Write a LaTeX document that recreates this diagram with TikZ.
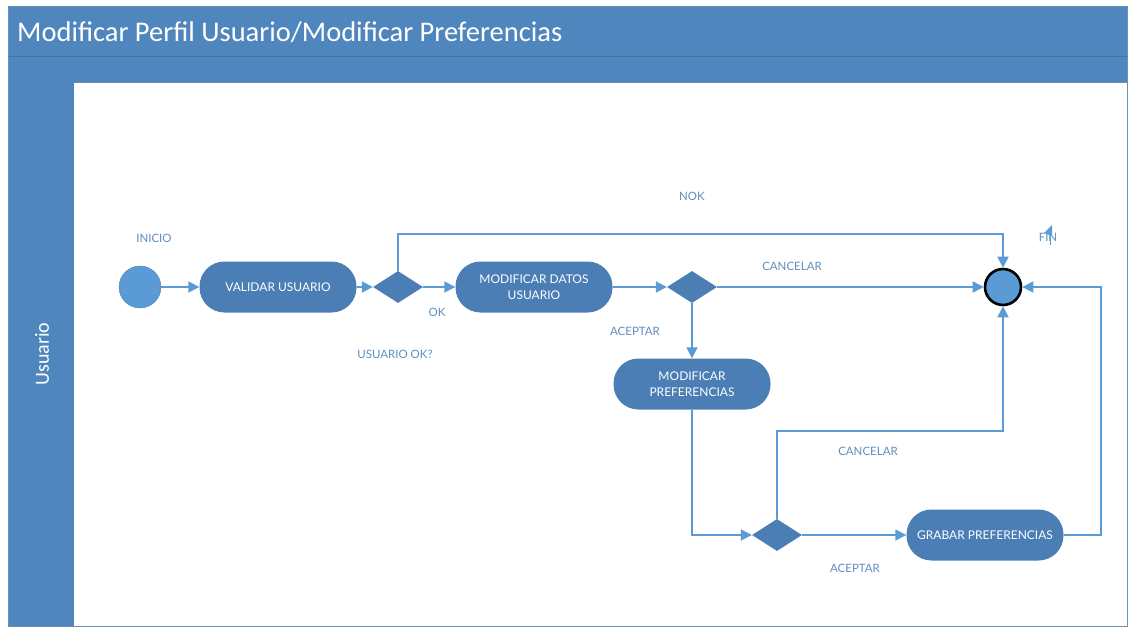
\documentclass[tikz,border=0pt]{standalone}
\usepackage{fontspec}
\setmainfont{Carlito}
\newfontfamily\lab{Lato}
\usetikzlibrary{shapes.geometric,arrows.meta}
\definecolor{hdr}{HTML}{4F86BD}
\definecolor{hdrline}{HTML}{45739F}
\definecolor{framec}{HTML}{6F8FAF}
\definecolor{nodefill}{HTML}{4A7EB4}
\definecolor{linec}{HTML}{5B9BD5}
\definecolor{labc}{HTML}{5E8FBF}
\begin{document}
\begin{tikzpicture}[x=1pt,y=-1pt,
  act/.style={draw=none,fill=nodefill,rounded corners=25pt,minimum width=157pt,minimum height=51pt,
    text=white,align=center,font=\lab\fontsize{12}{16.5}\selectfont,inner sep=2pt},
  dec/.style={diamond,draw=none,fill=nodefill,minimum width=50pt,minimum height=32pt,inner sep=0pt,aspect=1.5625},
  flow/.style={draw=linec,line width=1.8pt,-{Triangle[length=11pt,width=11pt]}},
  lbl/.style={text=labc,font=\lab\fontsize{11.5}{13}\selectfont,inner sep=0pt},
]
\useasboundingbox (0,0) rectangle (1131,628);
\fill[white] (0,0) rectangle (1131,628);
% frame
\fill[hdr] (8,7) rectangle (1127,82);
\fill[hdr] (8,82) rectangle (74,626);
\draw[hdrline,line width=1pt] (8,57) -- (1127,57);
\draw[framec,line width=1pt] (8,7) rectangle (1127,626);
\draw[framec,line width=0.6pt] (74,82) -- (1127,82);
\node[anchor=west,text=white,font=\fontsize{28.5}{32}\selectfont,inner sep=0pt] (title) at (17,32) {Modificar Perfil Usuario/Modificar Preferencias};
\node[rotate=90,text=white,font=\fontsize{20}{24}\selectfont,inner sep=0pt] (lane) at (42,354) {Usuario};
% nodes
\node[circle,fill=linec,draw=linec!85!black,line width=0.4pt,minimum size=42pt,inner sep=0pt] (start) at (140,287) {};
\node[act] (val) at (278,287) {VALIDAR USUARIO};
\node[dec] (d1) at (398,287) {};
\node[act] (mdu) at (534,287) {MODIFICAR DATOS\\USUARIO};
\node[dec] (d2) at (692,287) {};
\node[act] (mp) at (692,384) {MODIFICAR\\PREFERENCIAS};
\node[dec] (d3) at (777,535) {};
\node[act] (gp) at (985,535) {GRABAR PREFERENCIAS};
\node[circle,fill=linec,draw=black,line width=2.6pt,minimum size=36pt,inner sep=0pt] (fin) at (1003,287) {};
% labels
\node[lbl] (linicio) at (154,238) {INICIO};
\node[lbl] (lok) at (437,312) {OK};
\node[lbl] (luok) at (395,354) {USUARIO OK?};
\node[lbl] (lnok) at (692,196) {NOK};
\node[lbl] (lcan1) at (792,266) {CANCELAR};
\node[lbl] (lacep1) at (635,331) {ACEPTAR};
\node[lbl] (lcan2) at (868,451) {CANCELAR};
\node[lbl] (lacep2) at (855,568) {ACEPTAR};
\node[lbl] (lfin) at (1048,237) {FIN};
\fill[linec] (1044,233) -- (1052,225) -- (1052,236) -- cycle;
\draw[linec,line width=1pt] (1050,232) -- (1050,245);
% connectors
\draw[flow] (start) -- (val);
\draw[flow] (val) -- (d1);
\draw[flow] (d1) -- (mdu);
\draw[flow] (d1.north) -- (d1.north |- 0,234) -| (fin.north);
\draw[flow] (mdu) -- (d2);
\draw[flow] (d2) -- (fin);
\draw[flow] (d2) -- (mp);
\draw[flow] (mp.south) |- (d3.west);
\draw[flow] (d3.north) -- (d3.north |- 0,431) -| (fin.south);
\draw[flow] (d3) -- (gp);
\draw[flow] (gp.east) -- (gp.east -| 1101,0) |- (fin.east);
\end{tikzpicture}
\end{document}
